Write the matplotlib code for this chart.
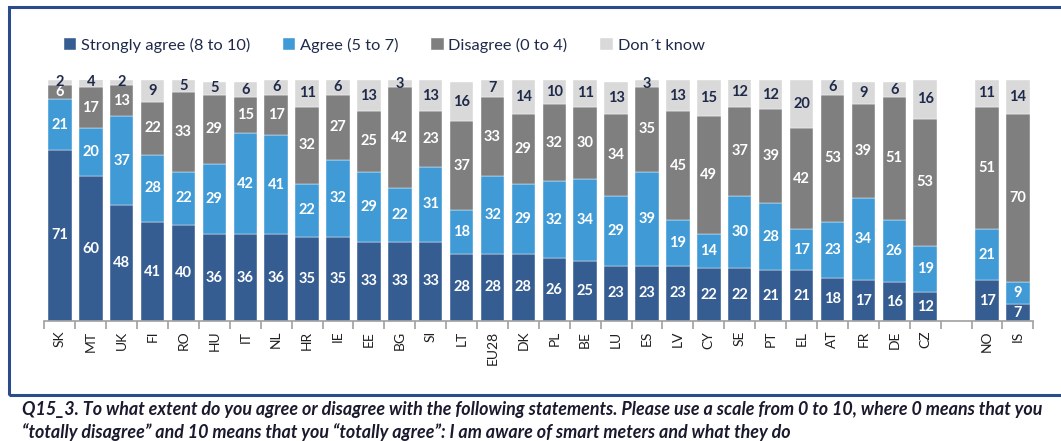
import numpy as np
import matplotlib
matplotlib.use('Agg')
import matplotlib.pyplot as plt
from matplotlib.patches import Rectangle

countries = ['SK', 'MT', 'UK', 'FI', 'RO', 'HU', 'IT', 'NL', 'HR', 'IE', 'EE', 'BG', 'SI', 'LT',
             'EU28', 'DK', 'PL', 'BE', 'LU', 'ES', 'LV', 'CY', 'SE', 'PT', 'EL', 'AT', 'FR', 'DE',
             'CZ', '', 'NO', 'IS']
strongly = [71, 60, 48, 41, 40, 36, 36, 36, 35, 35, 33, 33, 33, 28, 28, 28, 26, 25, 23, 23, 23,
            22, 22, 21, 21, 18, 17, 16, 12, None, 17, 7]
agree = [21, 20, 37, 28, 22, 29, 42, 41, 22, 32, 29, 22, 31, 18, 32, 29, 32, 34, 29, 39, 19,
         14, 30, 28, 17, 23, 34, 26, 19, None, 21, 9]
disagree = [6, 17, 13, 22, 33, 29, 15, 17, 32, 27, 25, 42, 23, 37, 33, 29, 32, 30, 34, 35, 45,
            49, 37, 39, 42, 53, 39, 51, 53, None, 51, 70]
dontknow = [2, 4, 2, 9, 5, 5, 6, 6, 11, 6, 13, 3, 13, 16, 7, 14, 10, 11, 13, 3, 13, 15, 12, 12,
            20, 6, 9, 6, 16, None, 11, 14]

series = [
    ('Strongly agree (8 to 10)', strongly, '#355d91', 'white'),
    ('Agree (5 to 7)', agree, '#3f9ad6', 'white'),
    ('Disagree (0 to 4)', disagree, '#7f7f7f', 'white'),
    ('Don\u00b4t know', dontknow, '#d9d9d9', '#1f2a4a'),
]

plt.rcParams['font.family'] = ['Lato', 'DejaVu Sans']

fig = plt.figure(figsize=(10.61, 4.41), dpi=100)
ax = fig.add_axes([0.0419, 0.272, 0.932, 0.5465])

x = np.arange(len(countries))
bottom = np.zeros(len(countries))
for name, vals, col, tcol in series:
    v = np.array([0 if a is None else a for a in vals], dtype=float)
    ax.bar(x, v, 0.76, bottom=bottom, color=col, label=name, edgecolor='white', linewidth=0.3)
    for i, a in enumerate(vals):
        if a is None:
            continue
        ax.text(x[i], bottom[i] + a / 2, str(a), ha='center', va='center',
                fontsize=10.5, color=tcol, fontweight='bold')
    bottom += v

ax.set_xlim(-0.5, len(countries) - 0.5)
ax.set_ylim(0, 100)
for s in ['top', 'right', 'left']:
    ax.spines[s].set_visible(False)
ax.spines['bottom'].set_color('#a0a0a0')
ax.spines['bottom'].set_linewidth(1.2)
ax.set_yticks([])
ax.set_xticks(x)
ax.set_xticklabels(countries, rotation=90, fontsize=10, color='#202020')
ax.tick_params(axis='x', length=0, pad=7)
ax.set_xticks(np.arange(-0.5, len(countries), 1), minor=True)
ax.tick_params(axis='x', which='minor', length=6, color='#a0a0a0', width=1.2)

fig.legend(loc='center left', bbox_to_anchor=(0.046, 0.898), ncol=4, frameon=False,
           fontsize=11.8, handlelength=0.75, handleheight=0.75, handletextpad=0.3,
           columnspacing=2.0, labelcolor='#1f2a4a')

fig.patches.append(Rectangle((9 / 1061, 1 - 395 / 441), 1.1, (395 - 7) / 441,
                             transform=fig.transFigure, fill=False,
                             edgecolor='#2b4c8c', linewidth=2.2, clip_on=False))

cap_font = ['Lato', 'DejaVu Sans']
fig.text(22 / 1061, 1 - 409 / 441,
         'Q15_3. To what extent do you agree or disagree with the following statements. '
         'Please use a scale from 0 to 10, where 0 means that you',
         fontsize=12.9, fontweight='bold', fontstyle='italic', family=cap_font,
         va='center', color='#1a1a2e')
fig.text(22 / 1061, 1 - 432 / 441,
         '\u201ctotally disagree\u201d and 10 means that you \u201ctotally agree\u201d: '
         'I am aware of smart meters and what they do',
         fontsize=12.9, fontweight='bold', fontstyle='italic', family=cap_font,
         va='center', color='#1a1a2e')

fig.savefig('out.png', dpi=100)
